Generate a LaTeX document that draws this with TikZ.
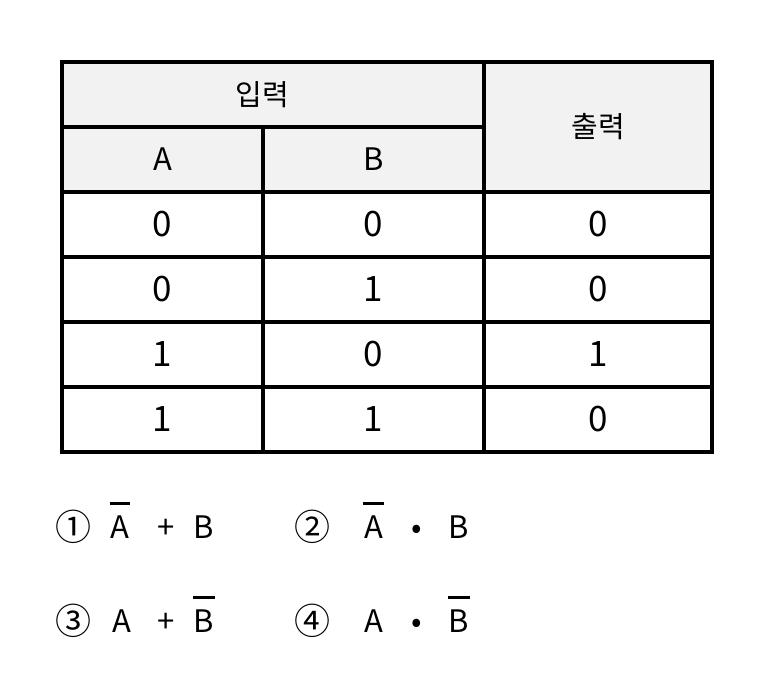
\documentclass[tikz,border=0pt]{standalone}
\usepackage{fontspec}
\setmainfont{Noto Sans CJK KR}
\usetikzlibrary{positioning}
\definecolor{tbgray}{RGB}{242,242,242}
\tikzstyle{cell} = [rectangle, draw=black, line width=3.75pt, inner sep=0pt, minimum height=65pt, text centered, font=\fontsize{35}{40}\selectfont]
\tikzstyle{head} = [cell, fill=tbgray, font=\fontsize{31}{36}\selectfont]
\tikzstyle{term} = [inner sep=0pt, anchor=base, font=\fontsize{31}{36}\selectfont]
\tikzstyle{circnum} = [term, font=\fontsize{36}{40}\selectfont]
\newcommand{\negbar}[1]{\setbox0=\hbox{#1}\rlap{\kern-1pt\rule[33pt]{\dimexpr\wd0+2pt\relax}{3pt}}\box0}

\begin{document}
\begin{tikzpicture}[x=1pt, y=-1pt]
\useasboundingbox (0,0) rectangle (776,697);
% Header
\node (inp) [head, minimum width=422pt] at (273,94.5) {};
\node [font=\fontsize{29}{34}\selectfont] at ([xshift=-11pt]inp.center) {입력};
\node (ha) [head, minimum width=201pt] at (162.5,159.5) {A};
\node (hb) [head, minimum width=221pt] at (373.5,159.5) {B};
\node (out) [head, minimum width=228pt, minimum height=130pt, font=\fontsize{29}{34}\selectfont] at (598,127) {출력};
% Rows
\node (a1) [cell, minimum width=201pt] at (162.5,224.5) {0};
\node (b1) [cell, minimum width=221pt] at (373.5,224.5) {0};
\node (y1) [cell, minimum width=228pt] at (598,224.5) {0};
\node (a2) [cell, minimum width=201pt] at (162.5,289.5) {0};
\node (b2) [cell, minimum width=221pt] at (373.5,289.5) {1};
\node (y2) [cell, minimum width=228pt] at (598,289.5) {0};
\node (a3) [cell, minimum width=201pt] at (162.5,354.5) {1};
\node (b3) [cell, minimum width=221pt] at (373.5,354.5) {0};
\node (y3) [cell, minimum width=228pt] at (598,354.5) {1};
\node (a4) [cell, minimum width=201pt] at (162.5,419.5) {1};
\node (b4) [cell, minimum width=221pt] at (373.5,419.5) {1};
\node (y4) [cell, minimum width=228pt] at (598,419.5) {0};
% Choices
\node (n1) [circnum] at (73.5,540) {①};
\node (n1a) [term] at (120,538) {\negbar{A}};
\node (n1o) [term] at (166,538) {+};
\node (n1b) [term] at (204,538) {B};
\node (n2) [circnum] at (312.5,540) {②};
\node (n2a) [term] at (373.5,538) {\negbar{A}};
\node (n2o) [term] at (417,538) {•};
\node (n2b) [term] at (459,538) {B};
\node (n3) [circnum] at (73.5,634) {③};
\node (n3a) [term] at (121.5,632) {A};
\node (n3o) [term] at (166,632) {+};
\node (n3b) [term] at (204,632) {\negbar{B}};
\node (n4) [circnum] at (312.5,634) {④};
\node (n4a) [term] at (374,632) {A};
\node (n4o) [term] at (417,632) {•};
\node (n4b) [term] at (459,632) {\negbar{B}};
\end{tikzpicture}
\end{document}
